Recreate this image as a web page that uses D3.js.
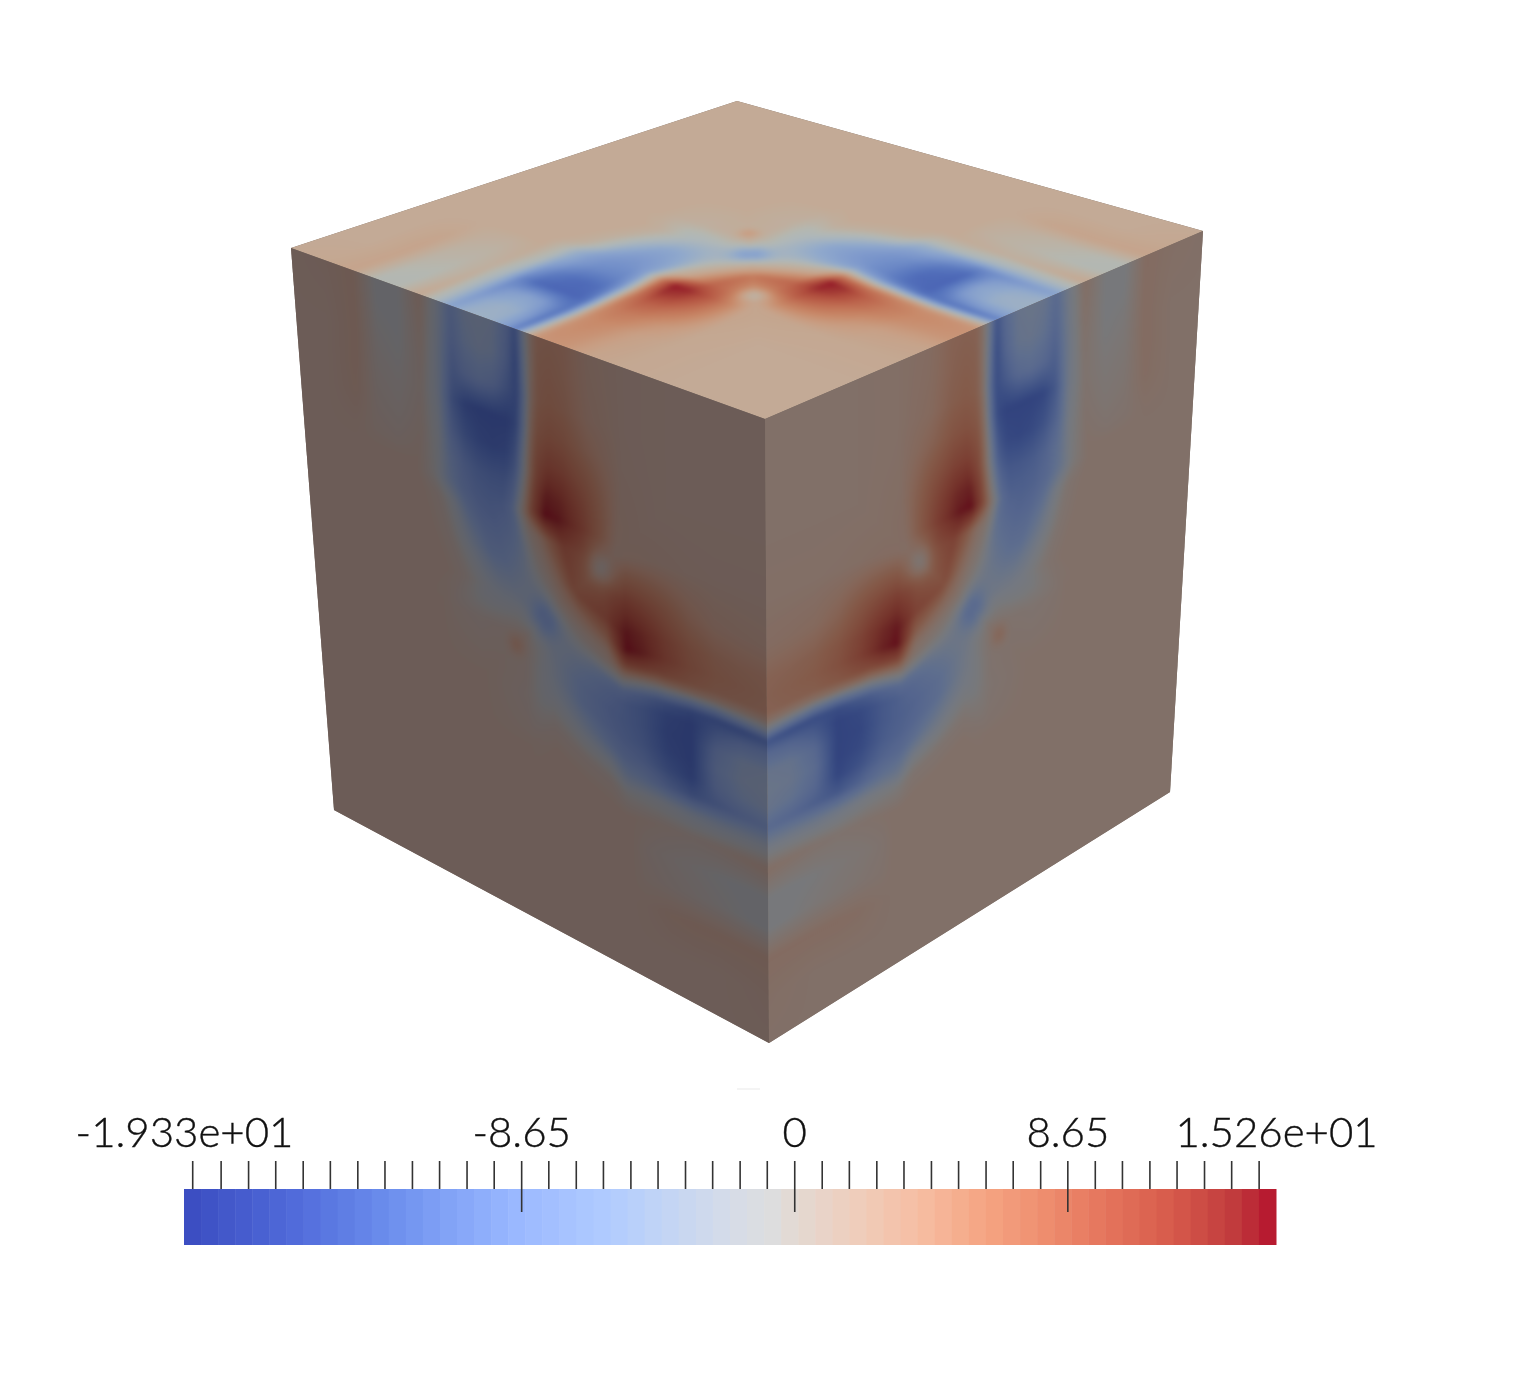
<!DOCTYPE html>
<html><head><meta charset="utf-8">
<script src="https://cdn.jsdelivr.net/npm/d3@7"></script>
<style>html,body{margin:0;padding:0;background:#fff}canvas,svg{position:absolute;left:0;top:0}</style>
</head><body>
<script>
// ---- colour legend ----
const colorStops  = [-19.33,-16,-13,-10,-8.65,-6,-4,-2,-0.6,0,2,4,6,8,10,12,14,15.26];
const colorValues = ["#3a4cc0","#4f69d9","#6a8cec","#8dadfb","#9cb9ff","#b0cbff","#c3d5f4","#d6dce8","#dddddd","#e3d9d3","#efcdbb","#f6bda2","#f5a583","#ee8d6e","#e4735b","#d65a4b","#c03a3c","#b4122d"];
const minorTicks  = [-19.07,-18.17,-17.3,-16.44,-15.57,-14.71,-13.84,-12.98,-12.11,-11.25,-10.38,-9.52,-7.79,-6.92,-6.06,-5.19,-4.33,-3.46,-2.6,-1.73,-0.87,0.87,1.73,2.6,3.46,4.33,5.19,6.06,6.92,7.79,9.52,10.38,11.25,12.11,12.98,13.84,14.71];
const majorTicks  = [-8.65,0,8.65];
const labelTicks  = [-19.33,-8.65,0,8.65,15.26];
const labelTexts  = ["-1.933e+01","-8.65","0","8.65","1.526e+01"];
const legendBands = 64;

// ---- field read off the faces: value by distance from the wave front (columns) and by
// position along the front (rows); all three faces show the same field from the shared corner ----
const frontLo  = [0,.1,.16,.22,.29,.375,.44,.5,1];
const frontHi  = [.472,.475,.48,.485,.497,.47,.44,.5,.5];
const dCols    = [-.5,-.3,-.2,-.13,-.08,-.05,-.025,-.01,.005,.02,.04,.07,.10,.13,.16,.19,.23,.28,.33,.38,.45,.55];
const loRows   = [0,.05,.1,.15,.2,.25,.28,.32,.38,.44,.5,.6];
const row00 = [2,2,2.3,3,4.8,5,4.8,2,-4,-12,-8,-4.5,-4,-4.5,-7.5,-2.5,2.5,-.8,-.8,3,2.4,2];
const row05 = [2,2,2.3,3.2,5,5.5,5.2,2,-5,-13,-9,-5,-4.5,-5.5,-8.5,-3,2,-.8,-.5,3,2.2,2];
const row10 = [2,2,2.3,3.5,5.5,6,5.5,2.5,-6,-13,-11,-8,-7,-8,-10,-3.5,1.5,-.5,0,3,2,2];
const row15 = [2,2,2.4,4.8,7,7.5,6.5,3,-6,-13,-14.5,-14.5,-14.5,-14,-11,-3,1.2,0,.5,3,2,2];
const row20 = [2,2,2.6,7,9.5,10,8,3.5,-4,-11,-13.5,-14,-13.5,-12,-9,-2,1.5,.5,1,2.8,2,2];
const row25 = [2,2,2.8,9,13,14,9,3.5,-3,-9,-11,-11,-10.5,-9,-6,-1,1.8,1.2,1.5,2.2,2,2];
const row28 = [2,2,2.8,10,14.5,15,9,3.5,-2,-8,-10,-10,-9.5,-8,-5,-.5,2,2,2,2,2,2];
const row32 = [2,2,2.6,8,9.5,6,2.5,1.5,-1,-6,-8,-9,-8.5,-6.5,-2,1,2,2,2,2,2,2];
const row38 = [2,2,2.3,5,8,4,1.5,.5,-1,-3,-5,-6.5,-6.5,-4,-1.5,1,2,2,2,2,2,2];
const row44 = [2,2,2.5,2.5,2.5,2.5,1.5,0,-1.5,-1.5,-1.5,-2.5,-2.5,-2,-.5,1,2,2,2,2,2,2];
const row50 = [2,2,2,2,2,2,2,2,1.8,1.5,1.2,1.2,1,1.2,1.5,2,2,2,2,2,2,2];
const row60 = [2,2,2,2,2,2,2,2,2,2,2,2,2,2,2,2,2,2,2,2,2,2];
const fieldRows = [row00,row05,row10,row15,row20,row25,row28,row32,row38,row44,row50,row60];
// small spots on the diagonal: position, strength, radius
const spotAt  = [.33,.455,.52];
const spotAmp = [-5,-6.5,2.5];
const spotRad = [.02,.024,.012];

// ---- layout ----
const W = 1540, H = 1380;
const P = {v:[765,419], r:[1203,231], l:[291,248], b:[737,101], cl:[334,810], cb:[769,1043], cr:[1170,792]};
const faces = [
  {q:[P.v,P.r,P.b,P.l],  L:[.815,.83,.80]},
  {q:[P.v,P.l,P.cl,P.cb],L:[.45,.45,.465]},
  {q:[P.v,P.r,P.cr,P.cb],L:[.54,.545,.555]}
];

const color = d3.scaleLinear().domain(colorStops).range(colorValues).interpolate(d3.interpolateRgb).clamp(true);
const frontPos = d3.scaleLinear().domain(frontLo).range(frontHi).clamp(true);
const lut = d3.range(0,1024).map(i=>d3.rgb(color(-20+36*i/1023)));

function fieldValue(a,b){
  const hi=Math.max(a,b), lo=Math.min(a,b), d=hi-frontPos(lo);
  let i=Math.min(dCols.length-2,Math.max(0,d3.bisectRight(dCols,d)-1));
  let j=Math.min(loRows.length-2,Math.max(0,d3.bisectRight(loRows,lo)-1));
  let s=Math.max(0,Math.min(1,(d-dCols[i])/(dCols[i+1]-dCols[i])));
  let t=Math.max(0,Math.min(1,(lo-loRows[j])/(loRows[j+1]-loRows[j])));
  let v=(fieldRows[j][i]*(1-s)+fieldRows[j][i+1]*s)*(1-t)+(fieldRows[j+1][i]*(1-s)+fieldRows[j+1][i+1]*s)*t;
  spotAt.forEach((p,k)=>{const r2=(a-p)*(a-p)+(b-p)*(b-p);v+=spotAmp[k]*Math.exp(-r2/(2*spotRad[k]*spotRad[k]));});
  return v;
}
// square to quad homography, inverted
function invHomography(q){
  const [[x0,y0],[x1,y1],[x2,y2],[x3,y3]]=q; // (0,0),(1,0),(1,1),(0,1)
  const dx1=x1-x2,dx2=x3-x2,sx=x0-x1+x2-x3,dy1=y1-y2,dy2=y3-y2,sy=y0-y1+y2-y3;
  const den=dx1*dy2-dx2*dy1, g=(sx*dy2-dx2*sy)/den, h=(dx1*sy-sx*dy1)/den;
  const a=x1-x0+g*x1,b=x3-x0+h*x3,c=x0,d=y1-y0+g*y1,e=y3-y0+h*y3,f=y0;
  const A=e-f*h,B=c*h-b,C=b*f-c*e,D=f*g-d,E=a-c*g,F=c*d-a*f,G=d*h-e*g,Hh=b*g-a*h,I=a*e-b*d;
  return (x,y)=>{const w=G*x+Hh*y+I;return [(A*x+B*y+C)/w,(D*x+E*y+F)/w];};
}

const canvas = d3.select("body").append("canvas").attr("width",W).attr("height",H).node();
const ctx = canvas.getContext("2d");
ctx.fillStyle="#fff";ctx.fillRect(0,0,W,H);
// seam-free underlay
ctx.fillStyle="#7a6d64";
ctx.beginPath();[P.l,P.b,P.r,P.cr,P.cb,P.cl].forEach((p,i)=>i?ctx.lineTo(p[0],p[1]):ctx.moveTo(p[0],p[1]));ctx.closePath();ctx.fill();

faces.forEach(f=>{
  const inv=invHomography(f.q), pad=10;
  const x0=d3.min(f.q,p=>p[0])-pad,x1=d3.max(f.q,p=>p[0])+pad,y0=d3.min(f.q,p=>p[1])-pad,y1=d3.max(f.q,p=>p[1])+pad;
  const w=x1-x0,h=y1-y0;
  const off=document.createElement("canvas");off.width=w;off.height=h;
  const oc=off.getContext("2d"),img=oc.createImageData(w,h);
  for(let y=0;y<h;y++)for(let x=0;x<w;x++){
    const [u,v]=inv(x+x0+.5,y+y0+.5);
    const val=fieldValue(Math.max(0,Math.min(1,u)),Math.max(0,Math.min(1,v)));
    const c=lut[Math.max(0,Math.min(1023,Math.round((val+20)/36*1023)))];
    const k=(y*w+x)*4;
    img.data[k]=c.r*f.L[0];img.data[k+1]=c.g*f.L[1];img.data[k+2]=c.b*f.L[2];img.data[k+3]=255;
  }
  oc.putImageData(img,0,0);
  ctx.save();
  ctx.beginPath();f.q.forEach((p,i)=>i?ctx.lineTo(p[0],p[1]):ctx.moveTo(p[0],p[1]));ctx.closePath();ctx.clip();
  ctx.filter="blur(2.2px)";
  ctx.drawImage(off,x0,y0);
  ctx.restore();
});

// ---- colour bar ----
const svg=d3.select("body").append("svg").attr("width",W).attr("height",H);
const x=d3.scaleLinear().domain([-19.33,15.26]).range([184,1276]);
const barTop=1189,barH=56;
const bands=d3.range(legendBands);
const bw=(x(15.26)-x(-19.33))/legendBands;
svg.append("g").selectAll("rect").data(bands).join("rect")
  .attr("x",i=>184+i*bw).attr("y",barTop).attr("width",bw+.5).attr("height",barH)
  .attr("fill",i=>color(-19.33+(i+.5)/legendBands*34.59));
svg.append("g").attr("transform",`translate(0,${barTop})`)
  .call(d3.axisTop(x).tickValues(minorTicks).tickSize(28).tickFormat(""))
  .call(g=>g.select(".domain").remove())
  .call(g=>g.selectAll("line").attr("stroke","#333").attr("stroke-width",1.6));
svg.append("g").attr("transform",`translate(0,1161)`)
  .call(d3.axisBottom(x).tickValues(majorTicks).tickSize(51).tickFormat(""))
  .call(g=>g.select(".domain").remove())
  .call(g=>g.selectAll("line").attr("stroke","#333").attr("stroke-width",1.6));
svg.append("g").attr("transform",`translate(0,1147)`)
  .call(d3.axisTop(x).tickValues(labelTicks).tickSize(0).tickPadding(0).tickFormat((d,i)=>labelTexts[i]))
  .call(g=>g.select(".domain").remove())
  .call(g=>g.selectAll("text").attr("dy",0).attr("y",0).attr("font-family","Lato").attr("font-weight",300).attr("font-size",42).attr("fill","#111").attr("stroke","#111").attr("stroke-width",.4));
// faint stray mark under the cube
svg.append("line").attr("x1",737).attr("x2",760).attr("y1",1089).attr("y2",1089).attr("stroke","#f0f0f0").attr("stroke-width",1.5);
</script>
</body></html>
